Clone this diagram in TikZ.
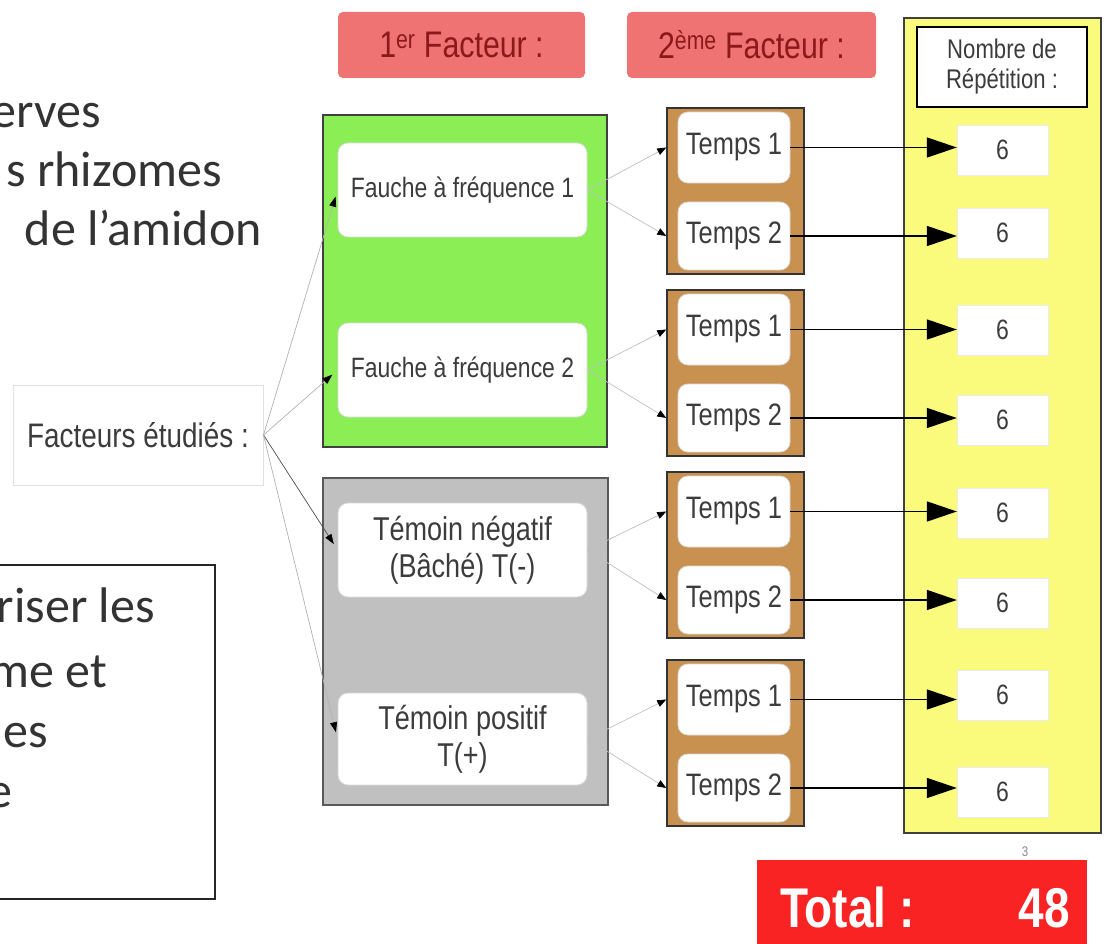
\documentclass[tikz,border=0pt]{standalone}
\usepackage{fontspec}
\newfontfamily\slidefont{Carlito}
\newfontfamily\narrowfont[FakeStretch=0.82]{Liberation Sans}
\usetikzlibrary{arrows.meta,calc}
\definecolor{titlepink}{RGB}{240,115,115}
\definecolor{titlered}{RGB}{140,25,25}
\definecolor{fauchegreen}{RGB}{140,238,85}
\definecolor{temoingray}{RGB}{192,192,192}
\definecolor{tempsbrown}{RGB}{200,145,80}
\definecolor{repyellow}{RGB}{250,250,125}
\definecolor{totalred}{RGB}{250,35,35}
\definecolor{inktext}{RGB}{60,60,60}
\tikzset{
	slidetext/.style={inner sep=0pt, text=black!80, font=\slidefont\fontsize{50}{60}\selectfont},
	pinkbox/.style={fill=titlepink, rounded corners=5pt, text=titlered, font=\narrowfont\fontsize{37}{40}\selectfont},
	whitebox/.style={draw=white!85!black, line width=0.8pt, fill=white, rounded corners=10pt, text=inktext, inner sep=0pt, align=center},
	factorbox/.style={whitebox, minimum width=249, font=\narrowfont\fontsize{33}{37}\selectfont},
	tempsbox/.style={whitebox, minimum width=112, font=\narrowfont\fontsize{31}{35}\selectfont},
	sixbox/.style={draw=black!8, fill=white, text=inktext, minimum width=91, minimum height=50, inner sep=0pt, font=\narrowfont\fontsize{28}{30}\selectfont},
	brownframe/.style={fill=tempsbrown, draw=black!80, line width=1.5pt, minimum width=137, minimum height=166, inner sep=0pt},
	factlink/.style={draw=black!30, line width=0.7pt, shorten >=7pt, -{Triangle[length=10pt,width=7pt,color=black]}},
	thinlink/.style={draw=black!25, line width=0.7pt, -{Triangle[length=9pt,width=7pt,color=black]}},
	replink/.style={draw=black, line width=1.6pt, -{Triangle[length=30pt,width=20pt]}},
	totaltext/.style={inner sep=0pt, text=white, font=\narrowfont\bfseries\fontsize{56}{60}\selectfont}
}

\begin{document}
\begin{tikzpicture}[x=1pt,y=-1pt]
	%%%%% START %%%%%
	\clip (0,0) rectangle (1106,944);
	\fill[white] (0,0) rectangle (1106,944);
	
	\node[slidetext, anchor=base east] (l1) at (101,128) {erves};
	\node[slidetext, anchor=base east] (l2) at (222,187) {s rhizomes};
	\node[slidetext, anchor=base east] (l3) at (262,246) {de l’amidon};
	
	\draw[line width=1.5pt, draw=black!85] (-20,565) rectangle (215,899);
	\node[slidetext, anchor=base east] (b1l) at (155,622) {riser les};
	\node[slidetext, anchor=base east] (b2l) at (107,687) {me et};
	\node[slidetext, anchor=base east] (b3l) at (48,747) {les};
	\node[slidetext, anchor=base east] (b4l) at (13,807) {e};
	
	\node[draw=black!12, line width=1pt, minimum width=250, minimum height=100, text=inktext, font=\narrowfont\fontsize{34}{38}\selectfont] (fe) at (138,435) {Facteurs étudiés :};
	
	\node[pinkbox, minimum width=247, minimum height=66] (h1) at (461.5,45) {1\textsuperscript{er} Facteur :};
	\node[pinkbox, minimum width=249, minimum height=66] (h2) at (751.5,45) {2\textsuperscript{ème} Facteur :};
	
	\draw[fill=repyellow, draw=black!75, line width=1.5pt] (904,18) rectangle (1101,833);
	\node[draw=black, line width=1.5pt, fill=white, minimum width=170, minimum height=80, align=center, text=inktext, font=\narrowfont\fontsize{27}{30}\selectfont] (nb) at (1002,67) {Nombre de\\Répétition :};
	
	\draw[fill=fauchegreen, draw=black!75, line width=1.5pt] (323,115) rectangle (607,447);
	\draw[fill=temoingray, draw=black!65, line width=1.5pt] (323,478) rectangle (608,805);
	
	\node[factorbox, minimum height=94, font=\narrowfont\fontsize{28}{32}\selectfont] (fa1) at (462.5,190) {Fauche à fréquence 1};
	\node[factorbox, minimum height=94, font=\narrowfont\fontsize{28}{32}\selectfont] (fa2) at (462.5,370) {Fauche à fréquence 2};
	\node[factorbox, minimum height=94] (tn) at (462.5,550) {Témoin négatif\\(Bâché) T(-)};
	\node[factorbox, minimum height=92] (tp) at (462.5,739) {Témoin positif\\T(+)};
	
	\node[brownframe] (fr1) at (735.5,191) {};
	\node[brownframe] (fr2) at (735.5,373) {};
	\node[brownframe] (fr3) at (735.5,555) {};
	\node[brownframe] (fr4) at (735.5,743) {};
	
	\node[tempsbox, minimum height=71] (t11) at (734,147.5) {Temps 1};
	\node[tempsbox, minimum height=68] (t12) at (734,236) {Temps 2};
	\node[tempsbox, minimum height=71] (t21) at (734,329.5) {Temps 1};
	\node[tempsbox, minimum height=68] (t22) at (734,418) {Temps 2};
	\node[tempsbox, minimum height=71] (t31) at (734,511.5) {Temps 1};
	\node[tempsbox, minimum height=68] (t32) at (734,600) {Temps 2};
	\node[tempsbox, minimum height=71] (t41) at (734,699.5) {Temps 1};
	\node[tempsbox, minimum height=68] (t42) at (734,788) {Temps 2};
	
	\node[sixbox] (s11) at (1002.5,150) {6};
	\node[sixbox] (s12) at (1002.5,233) {6};
	\node[sixbox] (s21) at (1002.5,330) {6};
	\node[sixbox] (s22) at (1002.5,420) {6};
	\node[sixbox] (s31) at (1002.5,513) {6};
	\node[sixbox] (s32) at (1002.5,603) {6};
	\node[sixbox] (s41) at (1002.5,695) {6};
	\node[sixbox] (s42) at (1002.5,792) {6};
	
	\draw[factlink] (fe.east) -- (fa1.west);
	\draw[factlink] (fe.east) -- (fa2.west);
	\draw[factlink, draw=black!70] (fe.east) -- (tn.west);
	\draw[factlink] (fe.east) -- (tp.west);
	
	\draw[thinlink] (fa1.east) -- (fr1.west |- t11.west);
	\draw[thinlink] (fa1.east) -- (fr1.west |- t12.west);
	\draw[thinlink] (fa2.east) -- (fr2.west |- t21.west);
	\draw[thinlink] (fa2.east) -- (fr2.west |- t22.west);
	\draw[thinlink] (tn.east) -- (fr3.west |- t31.west);
	\draw[thinlink] (tn.east) -- (fr3.west |- t32.west);
	\draw[thinlink] (tp.east) -- (fr4.west |- t41.west);
	\draw[thinlink] (tp.east) -- (fr4.west |- t42.west);
	
	\draw[replink] (t11.east) -- (s11.west |- t11.east);
	\draw[replink] (t12.east) -- (s12.west |- t12.east);
	\draw[replink] (t21.east) -- (s21.west |- t21.east);
	\draw[replink] (t22.east) -- (s22.west |- t22.east);
	\draw[replink] (t31.east) -- (s31.west |- t31.east);
	\draw[replink] (t32.east) -- (s32.west |- t32.east);
	\draw[replink] (t41.east) -- (s41.west |- t41.east);
	\draw[replink] (t42.east) -- (s42.west |- t42.east);
	
	\node[text=black!45, inner sep=0pt, font=\narrowfont\fontsize{14}{16}\selectfont] (pg) at (1025,852) {3};
	\node[fill=totalred, minimum width=330, minimum height=100, anchor=north west] (tot) at (757,860) {};
	\node[totaltext, anchor=base west] (totlabel) at (780,927) {Total :};
	\node[totaltext, anchor=base east] (totval) at (1070,927) {48};
	%%%%% END %%%%%
\end{tikzpicture}
\end{document}
